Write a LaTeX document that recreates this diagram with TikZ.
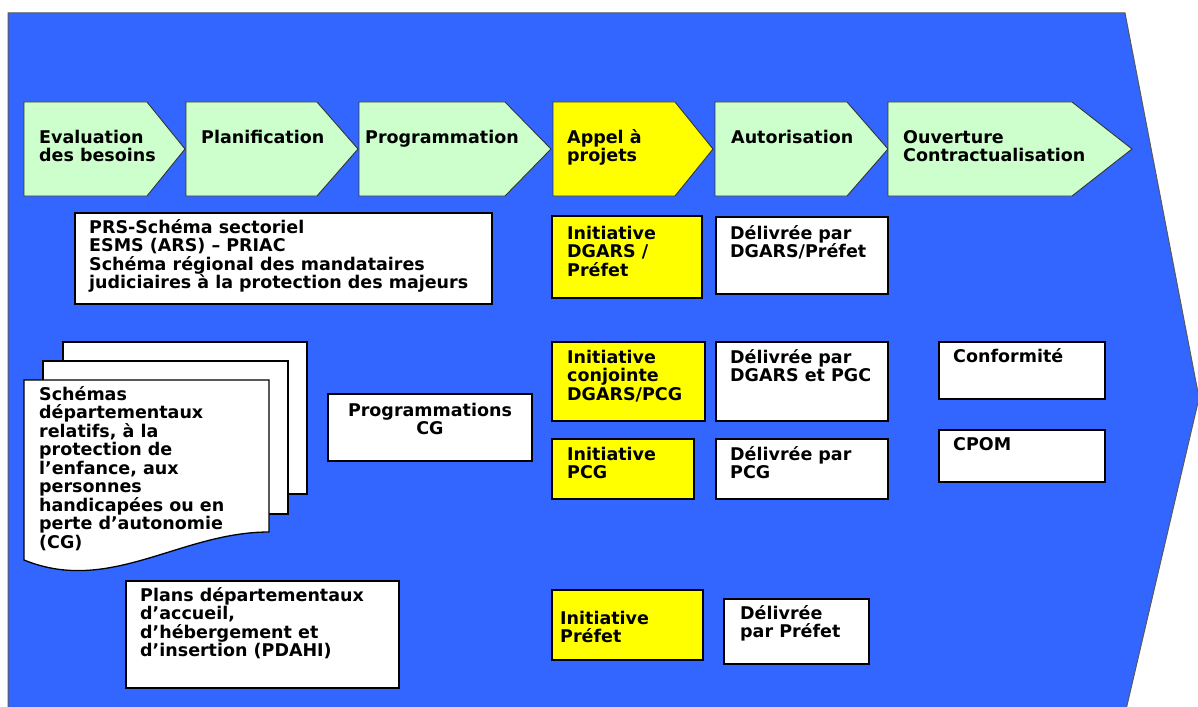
\documentclass[tikz,border=0pt]{standalone}
\usepackage{fontspec}
\setmainfont{DejaVu Sans}
\usetikzlibrary{fit}
\definecolor{bgblue}{HTML}{3366FF}
\definecolor{chgreen}{HTML}{CCFFCC}
\definecolor{ylw}{HTML}{FFFF00}
\newcommand\myst{\rule{0pt}{14pt}}
\tikzset{
  txt/.style={anchor=north west, inner sep=0pt, align=left, text=black,
    font=\bfseries\fontsize{17.5}{18.5}\selectfont},
  ctxt/.style={txt, anchor=north, align=center},
  box/.style={draw=black, line width=1.4pt, fill=white, inner sep=0pt},
  ybox/.style={box, fill=ylw},
  chev/.style={draw=black!80, line width=0.9pt, fill=chgreen},
  page/.style={draw=black, line width=1.3pt, fill=white}
}
\begin{document}
\begin{tikzpicture}[x=1pt,y=-1pt]
\useasboundingbox (0,0) rectangle (1198,706);
\clip (0,0) rectangle (1198,706);
\fill[white] (0,0) rectangle (1198,706);
% big blue arrow
\draw[fill=bgblue, draw=black!65, line width=1pt]
  (8,13) -- (1125,13) -- (1199,398) -- (1121,731) -- (8,731) -- cycle;

% chevrons
\draw[chev] (24,102) -- (147,102) -- (185,149) -- (147,196) -- (24,196) -- cycle;
\draw[chev] (186,102) -- (317,102) -- (358,149) -- (317,196) -- (186,196) -- cycle;
\draw[chev] (359,102) -- (505,102) -- (551,149) -- (505,196) -- (359,196) -- cycle;
\draw[chev, fill=ylw] (553,102) -- (675,102) -- (713,149) -- (675,196) -- (553,196) -- cycle;
\draw[chev] (715,102) -- (847,102) -- (888,149) -- (847,196) -- (715,196) -- cycle;
\draw[chev] (888,102) -- (1072,102) -- (1132,149) -- (1072,196) -- (888,196) -- cycle;

\node[txt] (c1) at (39,129) {\myst Evaluation\\des besoins};
\node[txt] (c2) at (201,129) {\myst Planification};
\node[txt] (c3) at (365,129) {\myst Programmation};
\node[txt] (c4) at (567,129) {\myst Appel à\\projets};
\node[txt] (c5) at (731,129) {\myst Autorisation};
\node[txt] (c6) at (903,129) {\myst Ouverture\\Contractualisation};

% PRS box
\node[box, fit={(75,213) (492,304)}] (prs) {};
\node[txt] (prst) at (89,219) {\myst PRS-Schéma sectoriel\\ESMS (ARS) – PRIAC\\Schéma régional des mandataires\\judiciaires à la protection des majeurs};

% yellow / white boxes
\node[ybox, fit={(552,216) (702,298)}] (y1) {};
\node[txt] (y1t) at (567,225) {\myst Initiative\\DGARS /\\Préfet};
\node[box, fit={(716,217) (888,294)}] (w1) {};
\node[txt] (w1t) at (730,225) {\myst Délivrée par\\DGARS/Préfet};

\node[ybox, fit={(552,342) (705,421)}] (y2) {};
\node[txt] (y2t) at (567,349) {\myst Initiative\\conjointe\\DGARS/PCG};
\node[box, fit={(716,342) (888,421)}] (w2) {};
\node[txt] (w2t) at (730,349) {\myst Délivrée par\\DGARS et PGC};

\node[ybox, fit={(552,439) (694,499)}] (y3) {};
\node[txt] (y3t) at (567,446) {\myst Initiative\\PCG};
\node[box, fit={(716,439) (888,499)}] (w3) {};
\node[txt] (w3t) at (730,446) {\myst Délivrée par\\PCG};

\node[ybox, fit={(552,590) (703,660)}] (y4) {};
\node[txt] (y4t) at (560,610) {\myst Initiative\\Préfet};
\node[box, fit={(724,599) (869,664)}] (w4) {};
\node[txt] (w4t) at (740,605) {\myst Délivrée\\par Préfet};

% right column
\node[box, fit={(939,342) (1105,399)}] (conf) {};
\node[txt] (conft) at (953,348) {\myst Conformité};
\node[box, fit={(939,430) (1105,482)}] (cpom) {};
\node[txt] (cpomt) at (953,436) {\myst CPOM};

% Programmations CG
\node[box, fit={(328,394) (532,461)}] (pcg) {};
\node[ctxt] (pcgt) at (430,402) {\myst Programmations\\CG};

% Plans departementaux
\node[box, fit={(126,581) (399,688)}] (pdahi) {};
\node[txt] (pdahit) at (140,587) {\myst Plans départementaux\\d’accueil,\\d’hébergement et\\d’insertion (PDAHI)};

% multi-document
\draw[page] (63,342) rectangle (307,494);
\draw[page] (43,361) rectangle (288,514);
\draw[page] (24,380) -- (269,380) -- (269,532)
  .. controls (180,532) and (110,595) .. (24,560) -- cycle;
\node[txt] (doct) at (39,386) {\myst Schémas\\départementaux\\relatifs, à la\\protection de\\l’enfance, aux\\personnes\\handicapées ou en\\perte d’autonomie\\(CG)};
\end{tikzpicture}
\end{document}
